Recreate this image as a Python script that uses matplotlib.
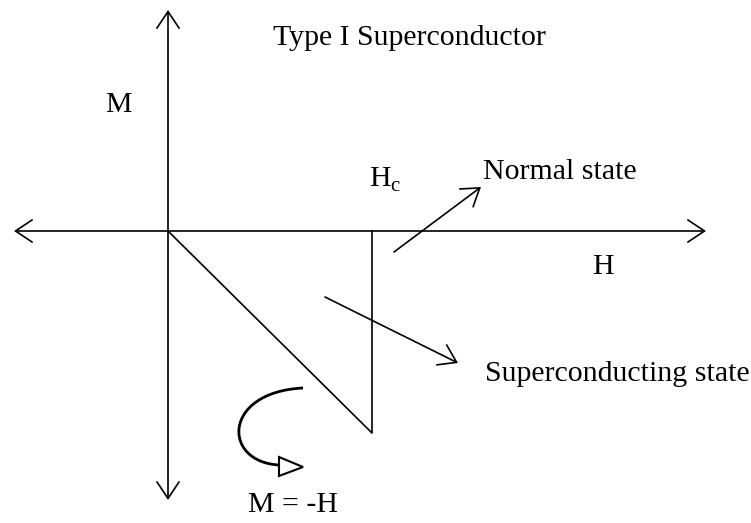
import matplotlib
matplotlib.use('Agg')
import matplotlib.pyplot as plt
from matplotlib.patches import FancyArrowPatch, PathPatch, Polygon
from matplotlib.path import Path

plt.rcParams['font.family'] = ['Liberation Serif', 'DejaVu Serif']
plt.rcParams['mathtext.fontset'] = 'custom'
plt.rcParams['mathtext.rm'] = 'Liberation Serif'

# geometry of the diagram, in picture units (x right, y down)
h_axis = [(14, 231), (706, 231)]          # H axis, arrows both ends
m_axis = [(168, 500), (168, 10)]          # M axis, arrows both ends
m_curve_x = [168, 372, 372]               # M = -H up to Hc, then jump to 0
m_curve_y = [231, 433, 231]
normal_arrow = [(394, 252), (481, 187)]
super_arrow = [(325, 297), (458, 363)]
turn_curve = [(303, 388), (222, 392), (222, 462), (279, 465)]
turn_head = [(279, 457), (279, 476), (303, 467)]

labels = ['Type I Superconductor', 'M', 'H$_{\\rm c}$', 'Normal state', 'H',
          'Superconducting state', 'M = -H']
label_pos = [(409, 45), (118, 112), (385, 187), (560, 179), (603, 274),
             (617, 381), (293, 512)]

fig = plt.figure(figsize=(7.51, 5.23), dpi=100)
ax = fig.add_axes([0, 0, 1, 1])
ax.set_xlim(0, 751)
ax.set_ylim(523, 0)
ax.axis('off')

lw = 1.2
for a in (h_axis, m_axis):
    ax.add_patch(FancyArrowPatch(a[0], a[1], arrowstyle='<->,head_length=0.6,head_width=0.4',
                                 mutation_scale=20, lw=lw, color='black',
                                 shrinkA=0, shrinkB=0))
ax.plot(m_curve_x, m_curve_y, color='black', lw=lw)

for a in (normal_arrow, super_arrow):
    ax.add_patch(FancyArrowPatch(a[0], a[1], arrowstyle='->,head_length=0.6,head_width=0.4',
                                 mutation_scale=20, lw=lw, color='black',
                                 shrinkA=0, shrinkB=0))

path = Path(turn_curve, [Path.MOVETO, Path.CURVE4, Path.CURVE4, Path.CURVE4])
ax.add_patch(PathPatch(path, fill=False, lw=2, color='black'))
ax.add_patch(Polygon(turn_head, closed=True, facecolor='white', edgecolor='black', lw=1.5))

for t, (x, y) in zip(labels, label_pos):
    ax.text(x, y, t, fontsize=21.5, ha='center', va='baseline', color='black')

fig.savefig('out.png', dpi=100)
